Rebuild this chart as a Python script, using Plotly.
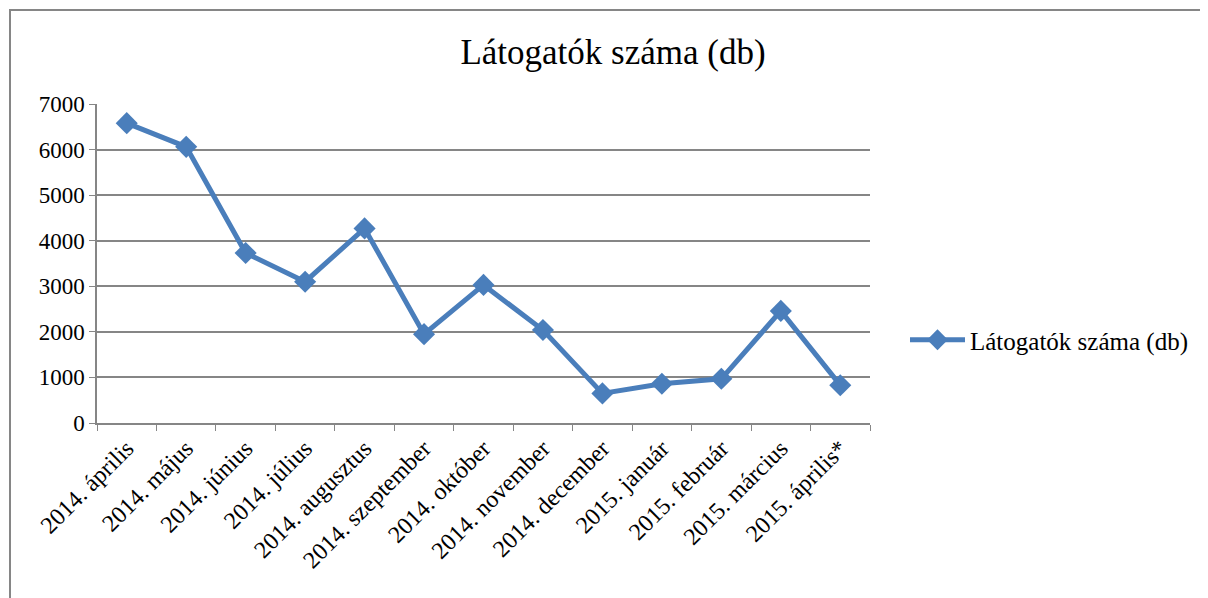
import plotly.graph_objects as go

# Havi látogatószám (db)
months = [
    "2014. április", "2014. május", "2014. június", "2014. július",
    "2014. augusztus", "2014. szeptember", "2014. október", "2014. november",
    "2014. december", "2015. január", "2015. február", "2015. március",
    "2015. április*",
]
visitors = [6580, 6060, 3730, 3100, 4270, 1950, 3030, 2040, 650, 860, 970, 2460, 830]
y_ticks = [0, 1000, 2000, 3000, 4000, 5000, 6000, 7000]

series_name = "Látogatók száma (db)"
blue = "#4a7ebb"
grey = "#868686"
serif = "Liberation Serif, DejaVu Serif, serif"

# the page body adds an 8px margin, so positions below are page px - 8
W, H = 1200, 590
L, R, T, B = 89, 862, 96, 415  # plot area in figure px

fig = go.Figure(go.Scatter(
    x=months,
    y=visitors,
    name=series_name,
    mode="lines+markers",
    line=dict(color=blue, width=5),
    marker=dict(symbol="diamond", size=17, color=blue),
    showlegend=True,
))

fig.update_layout(
    width=W,
    height=H,
    paper_bgcolor="white",
    plot_bgcolor="white",
    margin=dict(l=L, r=W - R, t=T, b=H - B),
    font=dict(family=serif, size=21, color="black"),
    title=dict(
        text=series_name,
        x=(613 - 8) / W,
        xanchor="center",
        y=1 - (52 - 8) / H,
        yanchor="middle",
        font=dict(size=35),
    ),
    legend=dict(
        x=(905 - 8 - L) / (R - L),
        y=(B - (340 - 8)) / (B - T),
        xanchor="left",
        yanchor="middle",
        font=dict(size=25),
        itemwidth=55,
        bgcolor="rgba(0,0,0,0)",
    ),
    shapes=[dict(
        type="rect",
        xref="paper", yref="paper",
        x0=(2 - L) / (R - L), x1=(1197 - L) / (R - L),
        y0=(B - 620) / (B - T), y1=(B - 2) / (B - T),
        line=dict(color=grey, width=2),
        layer="below",
    )],
)

fig.update_xaxes(
    type="category",
    range=[-0.5, len(months) - 0.5],
    tickangle=-45,
    tickson="boundaries",
    ticks="outside",
    ticklen=6,
    tickcolor=grey,
    showline=True,
    linecolor=grey,
    linewidth=1.5,
    showgrid=False,
    tickfont=dict(size=24),
)

fig.update_yaxes(
    range=[0, 7000],
    tickvals=y_ticks,
    ticks="outside",
    ticklen=6,
    tickcolor=grey,
    showline=True,
    linecolor=grey,
    linewidth=1.5,
    showgrid=True,
    gridcolor=grey,
    gridwidth=1.5,
    zeroline=False,
    tickfont=dict(size=23),
)

fig.write_html("out.html")
